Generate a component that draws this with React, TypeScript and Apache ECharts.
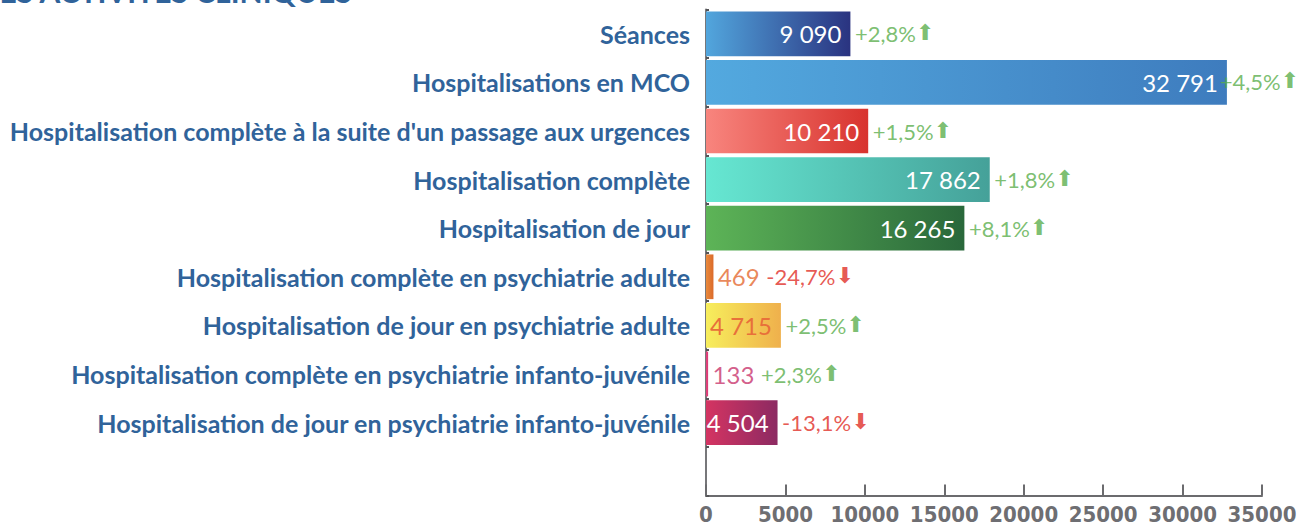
import React, { useEffect, useRef } from "react";
import * as echarts from "echarts";

const categories = [
  "Séances",
  "Hospitalisations en MCO",
  "Hospitalisation complète à la suite d'un passage aux urgences",
  "Hospitalisation complète",
  "Hospitalisation de jour",
  "Hospitalisation complète en psychiatrie adulte",
  "Hospitalisation de jour en psychiatrie adulte",
  "Hospitalisation complète en psychiatrie infanto-juvénile",
  "Hospitalisation de jour en psychiatrie infanto-juvénile",
];
const values = [9090, 32791, 10210, 17862, 16265, 469, 4715, 133, 4504];
const changes = [2.8, 4.5, 1.5, 1.8, 8.1, -24.7, 2.5, 2.3, -13.1];
const gradientStart = ["#52A6DD", "#53A9DF", "#F8857E", "#66E7D2", "#5DB457", "#E98A3C", "#F7EE5C", "#E2427C", "#D43462"];
const gradientEnd = ["#2A3380", "#3E7CBE", "#D8332E", "#45A199", "#2A683B", "#DB6A2A", "#EFB04C", "#D83A74", "#8C2A62"];
const valueLabelColors = ["#FFFFFF", "#FFFFFF", "#FFFFFF", "#FFFFFF", "#FFFFFF", "#E4692F", "#E8703A", "#C8346C", "#FFFFFF"];
const valueInside = [true, true, true, true, true, false, true, false, true];
const xTicks = { min: 0, max: 35000, interval: 5000 };
const title = "LES ACTIVITÉS CLINIQUES";

const fmtValue = (v: number) => String(v).replace(/\B(?=(\d{3})+(?!\d))/g, " ");
const fmtChange = (c: number) => (c > 0 ? "+" : "") + c.toFixed(1).replace(".", ",") + "%";

const GREEN = "#5AAE4C";
const RED = "#DF2E26";
const LABEL_FONT = "Lato";
const NARROW = "'Liberation Sans Narrow', 'DejaVu Sans Condensed', 'Roboto Condensed', Roboto, sans-serif";

export default function App() {
  const ref = useRef<HTMLDivElement>(null);
  useEffect(() => {
    if (!ref.current) return;
    const chart = echarts.init(ref.current, null, { renderer: "svg" });
    const barData = values.map((v, i) => ({
      value: v,
      itemStyle: {
        color: new echarts.graphic.LinearGradient(0, 0, 1, 0, [
          { offset: 0, color: gradientStart[i] },
          { offset: 1, color: gradientEnd[i] },
        ]),
      },
      label: {
        show: valueInside[i],
        position: "insideRight",
        distance: 9,
        color: valueLabelColors[i],
        fontFamily: LABEL_FONT,
        fontSize: 24,
        formatter: () => fmtValue(v),
      },
    }));
    const scatterData = values.map((v, i) => ({
      value: [v, categories[i]],
      label: {
        show: true,
        position: "right",
        distance: 4,
        formatter: () => {
          const up = changes[i] >= 0;
          const pre = valueInside[i] ? "" : "{v|" + fmtValue(v) + "}  ";
          return pre + "{" + (up ? "p" : "n") + "|" + fmtChange(changes[i]) + "}{" + (up ? "au" : "ad") + "|" + (up ? "⬆" : "⬇") + "}";
        },
        rich: {
          v: { color: valueLabelColors[i], fontFamily: LABEL_FONT, fontSize: 24 },
          p: { color: GREEN, fontFamily: LABEL_FONT, fontSize: 22 },
          n: { color: RED, fontFamily: LABEL_FONT, fontSize: 22 },
          au: { color: GREEN, fontFamily: "DejaVu Sans", fontSize: 22, padding: [0, 0, 2, 0] },
          ad: { color: RED, fontFamily: "DejaVu Sans", fontSize: 22, padding: [0, 0, 2, 0] },
        },
      },
    }));
    const chartWidth = 1301;
    chart.setOption({
      animation: false,
      backgroundColor: "#FFFFFF",
      graphic: [
        {
          type: "text",
          left: -16,
          top: -24,
          style: { text: title, font: "bold 30px Lato", fill: "#30639A" },
        },
      ],
      grid: { left: 706, right: 39, top: 9.5, bottom: 32.5, containLabel: false },
      xAxis: {
        type: "value",
        min: xTicks.min,
        max: xTicks.max,
        interval: xTicks.interval,
        splitLine: { show: false },
        axisLine: { show: true, lineStyle: { color: "#6B6B6E", width: 2 } },
        axisTick: { show: true, inside: true, length: 11, lineStyle: { color: "#6B6B6E", width: 2 } },
        axisLabel: {
          color: "#6E6E72",
          fontFamily: NARROW,
          fontWeight: "bold",
          fontSize: 22,
          margin: 8,
          formatter: (v: number) => String(v),
        },
      },
      yAxis: {
        type: "category",
        inverse: true,
        data: [...categories, ""],
        axisLine: { show: true, lineStyle: { color: "#77777A", width: 2 } },
        axisTick: { show: true, inside: true, length: 3, lineStyle: { color: "#555558", width: 2 } },
        axisLabel: {
          color: "#30639A",
          fontFamily: "Lato",
          fontWeight: "bold",
          fontSize: 25,
          margin: 16,
        },
      },
      series: [
        {
          type: "bar",
          data: barData,
          barCategoryGap: "8%",
          silent: true,
        },
        {
          type: "scatter",
          data: scatterData,
          symbolSize: 1,
          itemStyle: { color: "rgba(0,0,0,0)" },
          silent: true,
          z: 5,
          labelLayout: (params: any) => {
            const r = params.labelRect;
            const limit = chartWidth - 2;
            if (r.x + r.width > limit) {
              return {
                x: limit - r.width,
                y: r.y + r.height / 2,
                align: "left",
                verticalAlign: "middle",
              };
            }
            return {};
          },
        },
      ],
    });
    return () => chart.dispose();
  }, []);
  return (
    <div
      ref={ref}
      style={{ position: "absolute", left: 0, top: 0, width: 1301, height: 528 }}
    />
  );
}
